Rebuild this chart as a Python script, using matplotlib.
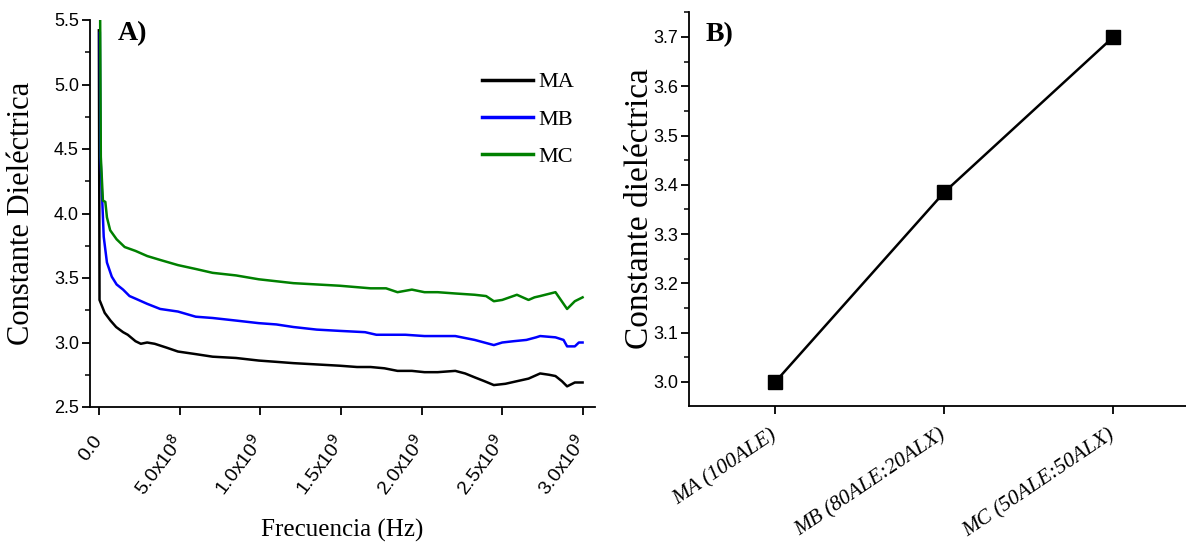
import matplotlib
matplotlib.use("Agg")
import matplotlib.pyplot as plt
from matplotlib.ticker import MultipleLocator, FixedLocator

# ---------------- data ----------------
# Panel A: frequency (GHz) and dielectric constant
freq_ma = [0.000, 0.004, 0.036, 0.072, 0.107, 0.150, 0.179, 0.227, 0.260, 0.299, 0.346, 0.420, 0.490,
           0.600, 0.705, 0.850, 0.991, 1.100, 1.206, 1.350, 1.493, 1.600, 1.684, 1.770, 1.851, 1.940,
           2.018, 2.100, 2.209, 2.270, 2.329, 2.390, 2.448, 2.520, 2.591, 2.663, 2.735, 2.790, 2.830,
           2.870, 2.902, 2.950, 2.998]
eps_ma = [5.42, 3.33, 3.23, 3.17, 3.12, 3.08, 3.06, 3.01, 2.99, 3.00, 2.99, 2.96, 2.93,
          2.91, 2.89, 2.88, 2.86, 2.85, 2.84, 2.83, 2.82, 2.81, 2.81, 2.80, 2.78, 2.78,
          2.77, 2.77, 2.78, 2.76, 2.73, 2.70, 2.67, 2.68, 2.70, 2.72, 2.76, 2.75, 2.74,
          2.70, 2.66, 2.69, 2.69]

freq_mb = [0.006, 0.010, 0.030, 0.050, 0.080, 0.110, 0.150, 0.190, 0.227, 0.299, 0.380, 0.490, 0.600,
           0.705, 0.850, 0.991, 1.100, 1.206, 1.350, 1.493, 1.650, 1.720, 1.900, 2.018, 2.209, 2.329,
           2.448, 2.500, 2.570, 2.650, 2.710, 2.735, 2.830, 2.880, 2.902, 2.950, 2.975, 2.998]
eps_mb = [5.40, 4.44, 3.82, 3.62, 3.51, 3.45, 3.41, 3.36, 3.34, 3.30, 3.26, 3.24, 3.20,
          3.19, 3.17, 3.15, 3.14, 3.12, 3.10, 3.09, 3.08, 3.06, 3.06, 3.05, 3.05, 3.02,
          2.98, 3.00, 3.01, 3.02, 3.04, 3.05, 3.04, 3.02, 2.97, 2.97, 3.00, 3.00]

freq_mc = [0.008, 0.012, 0.025, 0.040, 0.050, 0.070, 0.110, 0.160, 0.227, 0.300, 0.380, 0.490, 0.600,
           0.705, 0.850, 0.991, 1.206, 1.350, 1.493, 1.684, 1.780, 1.851, 1.940, 2.018, 2.100,
           2.209, 2.329, 2.400, 2.448, 2.500, 2.591, 2.663, 2.700, 2.735, 2.830, 2.902, 2.950, 2.998]
eps_mc = [5.50, 4.44, 4.10, 4.09, 3.97, 3.87, 3.80, 3.74, 3.71, 3.67, 3.64, 3.60, 3.57,
          3.54, 3.52, 3.49, 3.46, 3.45, 3.44, 3.42, 3.42, 3.39, 3.41, 3.39, 3.39,
          3.38, 3.37, 3.36, 3.32, 3.33, 3.37, 3.33, 3.35, 3.36, 3.39, 3.26, 3.32, 3.35]

series_names = ["MA", "MB", "MC"]
series_colors = ["black", "blue", "green"]
x_tick_vals = [0.0, 5.0e8, 1.0e9, 1.5e9, 2.0e9, 2.5e9, 3.0e9]
x_tick_labels = ["0.0", r"5.0x10$^{8}$", r"1.0x10$^{9}$", r"1.5x10$^{9}$",
                 r"2.0x10$^{9}$", r"2.5x10$^{9}$", r"3.0x10$^{9}$"]
y_ticks_a = [2.5, 3.0, 3.5, 4.0, 4.5, 5.0, 5.5]

# Panel B
samples = ["MA (100ALE)", "MB (80ALE:20ALX)", "MC (50ALE:50ALX)"]
eps_mean = [3.00, 3.385, 3.70]
y_ticks_b = [3.0, 3.1, 3.2, 3.3, 3.4, 3.5, 3.6, 3.7]

# ---------------- figure ----------------
W, H = 1186, 548
fig = plt.figure(figsize=(W / 100, H / 100), dpi=100)
sans = "Liberation Sans"
serif = "Liberation Serif"

axA = fig.add_axes([90 / W, 1 - 407 / H, 505 / W, 387 / H])
axB = fig.add_axes([689 / W, 1 - 406 / H, (W - 689) / W, 394 / H])

GHz = 1e9
for f, e, name, c in zip([freq_ma, freq_mb, freq_mc], [eps_ma, eps_mb, eps_mc],
                         series_names, series_colors):
    axA.plot([v * GHz for v in f], e, color=c, lw=1.8, label=name)

axA.set_xlim(-0.055e9, 3.075e9)
axA.set_ylim(2.5, 5.5)
axA.set_xticks(x_tick_vals)
axA.set_xticklabels(x_tick_labels, rotation=53, ha="right", va="center",
                    rotation_mode="anchor", family=sans, fontsize=14)
axA.yaxis.set_major_locator(FixedLocator(y_ticks_a))
axA.yaxis.set_minor_locator(MultipleLocator(0.25))
axA.set_yticklabels([f"{v:.1f}" for v in y_ticks_a], family=sans, fontsize=13)
axA.set_xlabel("Frecuencia (Hz)", family=serif, fontsize=18, va="top")
axA.xaxis.set_label_coords(0.5, -0.29)
axA.set_ylabel("Constante Dieléctrica", family=serif, fontsize=22, va="center")
axA.yaxis.set_label_coords(-0.135, 0.5)
axA.text(0.055, 0.997, "A)", transform=axA.transAxes, family=serif, fontsize=20,
         fontweight="bold", ha="left", va="top")
leg = axA.legend(loc="upper left", bbox_to_anchor=(0.758, 0.889), frameon=False,
                 prop={"family": serif, "size": 16}, handlelength=2.3,
                 labelspacing=0.75, handletextpad=0.27, borderaxespad=0.0)
for line in leg.get_lines():
    line.set_linewidth(2.5)

# Panel B
xpos = [1, 2, 3]
axB.plot(xpos, eps_mean, color="black", lw=1.8, marker="s", markersize=10,
         markerfacecolor="black")
axB.set_xlim(0.49, 3.43)
axB.set_ylim(2.9513, 3.7507)
axB.set_xticks(xpos)
axB.set_xticklabels(samples, rotation=34, ha="right", va="center", rotation_mode="anchor",
                    family=serif, style="italic", fontsize=15.5)
axB.yaxis.set_major_locator(FixedLocator(y_ticks_b))
axB.yaxis.set_minor_locator(MultipleLocator(0.05))
axB.set_yticklabels([f"{v:.1f}" for v in y_ticks_b], family=sans, fontsize=13)
axB.set_ylabel("Constante dieléctrica", family=serif, fontsize=24, va="center")
axB.yaxis.set_label_coords(-0.0986, 0.5)
axB.text(0.033, 0.975, "B)", transform=axB.transAxes, family=serif, fontsize=20,
         fontweight="bold", ha="left", va="top")

for ax in (axA, axB):
    ax.spines["top"].set_visible(False)
    ax.spines["right"].set_visible(False)
    for s in ("left", "bottom"):
        ax.spines[s].set_linewidth(1.3)
    ax.tick_params(which="major", direction="out", length=6, width=1.3)
    ax.tick_params(which="minor", direction="out", length=3.5, width=1.1)
    ax.tick_params(axis="y", which="major", pad=2)
axA.tick_params(axis="x", which="major", pad=16)
axB.tick_params(axis="x", which="major", pad=14)

fig.savefig("out.png", dpi=100)
